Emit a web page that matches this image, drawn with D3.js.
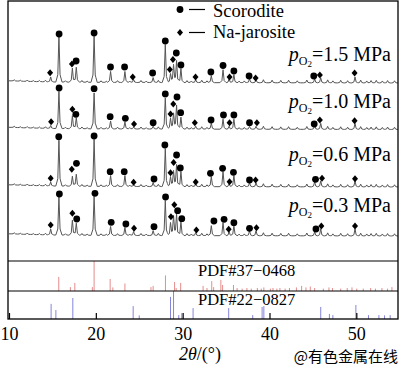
<!DOCTYPE html>
<html><head><meta charset="utf-8">
<script src="https://cdn.jsdelivr.net/npm/d3@7/dist/d3.min.js"></script>
<style>
body{margin:0;background:#fff}
svg{display:block}
text{font-family:"Liberation Serif","Times New Roman",serif;fill:#000}
</style>
</head><body><svg id="chart" width="400" height="367"></svg>
<script>
// ---------------- data ----------------
const samples = ["1.5", "1.0", "0.6", "0.3"];          // pO2, MPa (top to bottom)
const xTicks = [10, 20, 30, 40, 50];

// main diffraction peaks (2θ, °) and intensities (a.u.) per sample
const peakPos = [14.8, 15.75, 17.3, 17.75, 19.8, 21.7, 23.35, 24.35, 26.6, 28.0, 28.6, 28.95, 29.3, 29.8, 31.5, 33.3, 34.65, 35.35, 35.9, 37.7, 38.45, 45.2, 45.9, 49.85];
const int15 = [50, 460, 140, 150, 460, 110, 110, 30, 50, 380, 90, 180, 220, 140, 30, 70, 130, 40, 80, 40, 30, 40, 50, 60];
const int10 = [30, 370, 130, 110, 360, 80, 70, 20, 30, 310, 110, 160, 240, 120, 30, 60, 100, 30, 100, 30, 30, 40, 60, 60];
const int06 = [40, 460, 100, 120, 470, 110, 110, 20, 40, 380, 100, 160, 220, 150, 30, 100, 150, 30, 110, 40, 40, 50, 60, 60];
const int03 = [60, 380, 150, 120, 390, 90, 80, 40, 50, 350, 130, 200, 220, 140, 30, 100, 130, 40, 100, 50, 50, 40, 70, 70];

// weak reflections / background bumps common to all patterns
const minorPos = [10.6, 11.3, 12.1, 12.8, 13.5, 14.2, 16.5, 18.4, 19.0, 20.6, 21.2, 22.5, 23.9, 25.2, 25.8, 27.2, 30.5, 31.0, 32.2, 32.8, 36.5, 37.1, 39.3, 40.3, 41.3, 42.2, 43.2, 44.3, 46.7, 47.3, 48.2, 49.0, 50.5, 51.2, 51.7, 52.3, 53.0, 53.6, 54.4];
const minorInt = [12, 10, 14, 10, 12, 16, 14, 18, 12, 16, 12, 18, 14, 20, 14, 22, 20, 16, 24, 18, 16, 18, 30, 26, 24, 26, 20, 28, 30, 20, 26, 22, 28, 20, 24, 26, 20, 24, 22];
// slowly decaying background (2θ, a.u.)
const background = [[10, 22], [12, 16], [15, 10], [20, 6], [30, 4], [55, 0]];

// phase markers: [2θ, phase (c = scorodite, d = Na-jarosite), marker level a.u.]
const marks15 = [[14.73,"d",103],[15.77,"c",490],[17.25,"d",190],[17.73,"c",220],[19.8,"c",500],[21.69,"c",160],[23.31,"c",160],[24.25,"d",60],[26.54,"c",100],[28.0,"c",420],[28.52,"d",135],[28.88,"d",235],[29.27,"c",300],[29.8,"c",180],[31.48,"d",60],[33.25,"c",110],[34.65,"c",175],[35.4,"d",60],[35.9,"c",120],[37.65,"c",70],[38.4,"d",50],[45.1,"c",70],[45.8,"d",80],[49.8,"d",100]];
const marks10 = [[14.85,"d",78],[15.77,"c",415],[17.3,"d",202],[17.7,"c",152],[19.8,"c",408],[21.65,"c",128],[23.4,"c",112],[24.4,"d",55],[26.6,"c",68],[28.0,"c",355],[28.6,"d",155],[28.92,"d",255],[29.35,"c",325],[29.77,"c",168],[31.4,"d",68],[33.27,"c",95],[34.7,"c",145],[35.4,"d",68],[35.9,"c",145],[37.7,"c",68],[38.55,"d",68],[45.15,"c",55],[45.8,"d",95],[49.8,"d",88]];
const marks06 = [[14.8,"d",87],[15.73,"c",503],[17.23,"d",177],[17.77,"c",237],[19.8,"c",510],[21.65,"c",153],[23.27,"c",153],[24.35,"d",47],[26.7,"c",80],[27.95,"c",420],[28.6,"d",143],[28.96,"d",245],[29.3,"c",320],[29.73,"c",190],[31.5,"d",50],[33.2,"c",137],[34.6,"c",187],[35.4,"d",53],[35.85,"c",147],[37.7,"c",70],[38.4,"d",70],[45.3,"c",77],[46.05,"d",87],[49.85,"d",83]];
const marks03 = [[14.8,"d",110],[15.8,"c",420],[17.3,"d",227],[17.8,"c",170],[19.9,"c",427],[21.77,"c",137],[23.46,"c",120],[24.4,"d",77],[26.7,"c",93],[28.03,"c",390],[28.65,"d",193],[29.04,"d",313],[29.42,"c",253],[29.9,"c",173],[31.58,"d",60],[33.6,"c",150],[34.77,"c",167],[35.3,"d",67],[35.9,"c",133],[37.7,"c",77],[38.5,"d",83],[45.35,"c",70],[45.97,"d",100],[49.85,"d",100]];

// reference cards: [2θ, relative intensity %]
const pdf37 = [[15.73,47],[17.07,13],[17.58,27],[19.6,13],[19.8,100],[21.65,40],[21.96,12],[23.35,25],[26.35,13],[26.6,17],[28.02,52],[29.07,30],[29.25,10],[29.77,27],[32.35,17],[32.8,10],[33.35,33],[33.57,13],[34.4,37],[34.6,20],[35.85,20],[36.27,10],[36.85,8],[37.4,10],[37.9,8],[38.6,10],[39.05,8],[39.35,12],[40.1,8],[40.4,10],[40.85,8],[41.2,10],[41.8,8],[42.3,10],[43.1,12],[43.7,17],[44.2,12],[44.7,15],[45.2,10],[46.2,8],[46.85,12],[47.25,10],[48.2,8],[48.95,10],[49.5,12],[50.05,8],[50.8,8],[51.65,10],[52.2,8],[52.95,10],[53.6,8],[54.1,13]];
const pdf22 = [[14.85,54],[15.4,32],[17.35,75],[24.3,46],[25.0,13],[28.6,79],[28.95,100],[29.55,14],[29.9,21],[31.2,39],[35.3,39],[38.07,14],[39.15,43],[39.35,46],[45.9,43],[46.9,18],[47.3,14],[49.95,50],[51.4,14],[52.6,14],[53.25,13],[53.9,14]];

const pdfLabels = ["PDF#37\u22120468", "PDF#22\u22120827"];
const legendItems = [["c", "Scorodite"], ["d", "Na-jarosite"]];

// ---------------- layout ----------------
const L = 8, R = 398, T = 1, B = 319;
const panelTop = 261, panelMid = 291;
const traceBase = [83, 129.5, 187, 236];
const svg = d3.select("#chart");

const x = d3.scaleLinear().domain([10, 54.8]).range([9, R]);

const traces = [
  {p: samples[0], ints: int15, marks: marks15},
  {p: samples[1], ints: int10, marks: marks10},
  {p: samples[2], ints: int06, marks: marks06},
  {p: samples[3], ints: int03, marks: marks03}
];

svg.append("defs").append("clipPath").attr("id", "clip")
  .append("rect").attr("x", L).attr("y", T).attr("width", R - L).attr("height", B - T);

const plot = svg.append("g").attr("clip-path", "url(#clip)");

// peak profile (pseudo-shape) offsets and fractions
const shapeOff = [-0.36, -0.13, 0, 0.13, 0.36];
const shapeFrac = [0, 0.16, 1, 0.16, 0];

function profile(peaks) {
  const xs = new Set([10, 54.8]);
  background.forEach(b => xs.add(b[0]));
  peaks.forEach(([p]) => shapeOff.forEach(o => xs.add(+(p + o).toFixed(4))));
  const sorted = Array.from(xs).filter(v => v >= 10 && v <= 54.8).sort((a, b) => a - b);
  const bgI = d3.scaleLinear().domain(background.map(d => d[0])).range(background.map(d => d[1]));
  return sorted.map(t => {
    let v = bgI(t);
    peaks.forEach(([p, h]) => {
      const d = t - p;
      if (d <= shapeOff[0] || d >= shapeOff[4]) return;
      for (let k = 0; k < 4; k++) {
        if (d >= shapeOff[k] && d <= shapeOff[k + 1]) {
          const f = (d - shapeOff[k]) / (shapeOff[k + 1] - shapeOff[k]);
          v += h * (shapeFrac[k] + f * (shapeFrac[k + 1] - shapeFrac[k]));
          break;
        }
      }
    });
    return [t, v];
  });
}

function diamondPath(cx, cy, s) {
  return `M${cx},${cy - s * 1.15}L${cx + s},${cy}L${cx},${cy + s * 1.15}L${cx - s},${cy}Z`;
}

traces.forEach((tr, i) => {
  const y = d3.scaleLinear().domain([0, 1000]).range([traceBase[i], traceBase[i] - 100]);
  const peaks = peakPos.map((p, k) => [p, tr.ints[k]]).concat(minorPos.map((p, k) => [p, minorInt[k]]));
  const pts = profile(peaks);
  plot.append("path")
    .attr("d", d3.line().x(d => x(d[0])).y(d => y(d[1]))(pts))
    .attr("fill", "none").attr("stroke", "#555").attr("stroke-width", 1);
  const g = svg.append("g");
  tr.marks.forEach(([t, ph, lv]) => {
    if (ph === "c") g.append("circle").attr("cx", x(t)).attr("cy", y(lv)).attr("r", 3.4).attr("fill", "#000");
    else g.append("path").attr("d", diamondPath(x(t), y(lv), 3.0)).attr("fill", "#000");
  });
  // label
  const lbl = svg.append("text").attr("x", 391).attr("y", [60.5, 108, 161, 212][i])
    .attr("text-anchor", "end").attr("font-size", 20);
  lbl.append("tspan").attr("font-style", "italic").text("p");
  lbl.append("tspan").attr("font-size", 12).attr("dy", 4).text("O");
  lbl.append("tspan").attr("font-size", 9).attr("dy", 2).text("2");
  lbl.append("tspan").attr("dy", -6).text("=" + tr.p + " MPa");
});

// reference panels
const yR1 = d3.scaleLinear().domain([0, 100]).range([panelMid, panelTop]);
const yR2 = d3.scaleLinear().domain([0, 100]).range([B, panelMid]);
svg.append("g").selectAll("line").data(pdf37).join("line")
  .attr("x1", d => x(d[0])).attr("x2", d => x(d[0]))
  .attr("y1", yR1(0)).attr("y2", d => yR1(d[1]))
  .attr("stroke", "#e58c8c").attr("stroke-width", 1);
svg.append("g").selectAll("line").data(pdf22).join("line")
  .attr("x1", d => x(d[0])).attr("x2", d => x(d[0]))
  .attr("y1", yR2(0)).attr("y2", d => yR2(d[1]))
  .attr("stroke", "#8585dc").attr("stroke-width", 1);
svg.append("text").attr("x", 198).attr("y", 276).attr("font-size", 16.5).text(pdfLabels[0]);
svg.append("text").attr("x", 198).attr("y", 305).attr("font-size", 16.5).text(pdfLabels[1]);

// frame and separators
svg.append("rect").attr("x", L).attr("y", T).attr("width", R - L).attr("height", B - T)
  .attr("fill", "none").attr("stroke", "#000").attr("stroke-width", 1.3);
[panelTop, panelMid].forEach(v => svg.append("line").attr("x1", L).attr("x2", R)
  .attr("y1", v).attr("y2", v).attr("stroke", "#000").attr("stroke-width", 1.2));

// x axis
const ax = svg.append("g").attr("transform", `translate(0,${B})`)
  .call(d3.axisBottom(x).tickValues(xTicks).tickFormat(d3.format("d")).tickSizeInner(-6).tickSizeOuter(0).tickPadding(8));
ax.select(".domain").remove();
ax.selectAll(".tick line").attr("stroke", "#000").attr("stroke-width", 1.2);
ax.selectAll(".tick text").attr("font-size", 18).attr("font-family", "Liberation Serif, serif").attr("fill", "#000");

const xt = svg.append("text").attr("x", 200).attr("y", 360).attr("text-anchor", "middle").attr("font-size", 18);
xt.append("tspan").attr("font-style", "italic").text("2\u03b8");
xt.append("tspan").text("/(\u00b0)");

// legend
legendItems.forEach(([ph, name], i) => {
  const cy = [9.5, 32.5][i];
  if (ph === "c") svg.append("circle").attr("cx", 180).attr("cy", cy).attr("r", 3.4).attr("fill", "#000");
  else svg.append("path").attr("d", diamondPath(180, cy, 3.0)).attr("fill", "#000");
  svg.append("line").attr("x1", 189).attr("x2", 205).attr("y1", cy).attr("y2", cy).attr("stroke", "#000").attr("stroke-width", 1.2);
  svg.append("text").attr("x", 213).attr("y", [16.5, 38][i]).attr("font-size", 18.5).text(name);
});

// watermark
svg.append("text").attr("x", 398).attr("y", 362).attr("text-anchor", "end")
  .attr("font-size", 15).style("font-family", "'Noto Sans CJK SC', sans-serif")
  .attr("fill", "#f4aeb2").text("@有色金属在线");
</script>
</body></html>
